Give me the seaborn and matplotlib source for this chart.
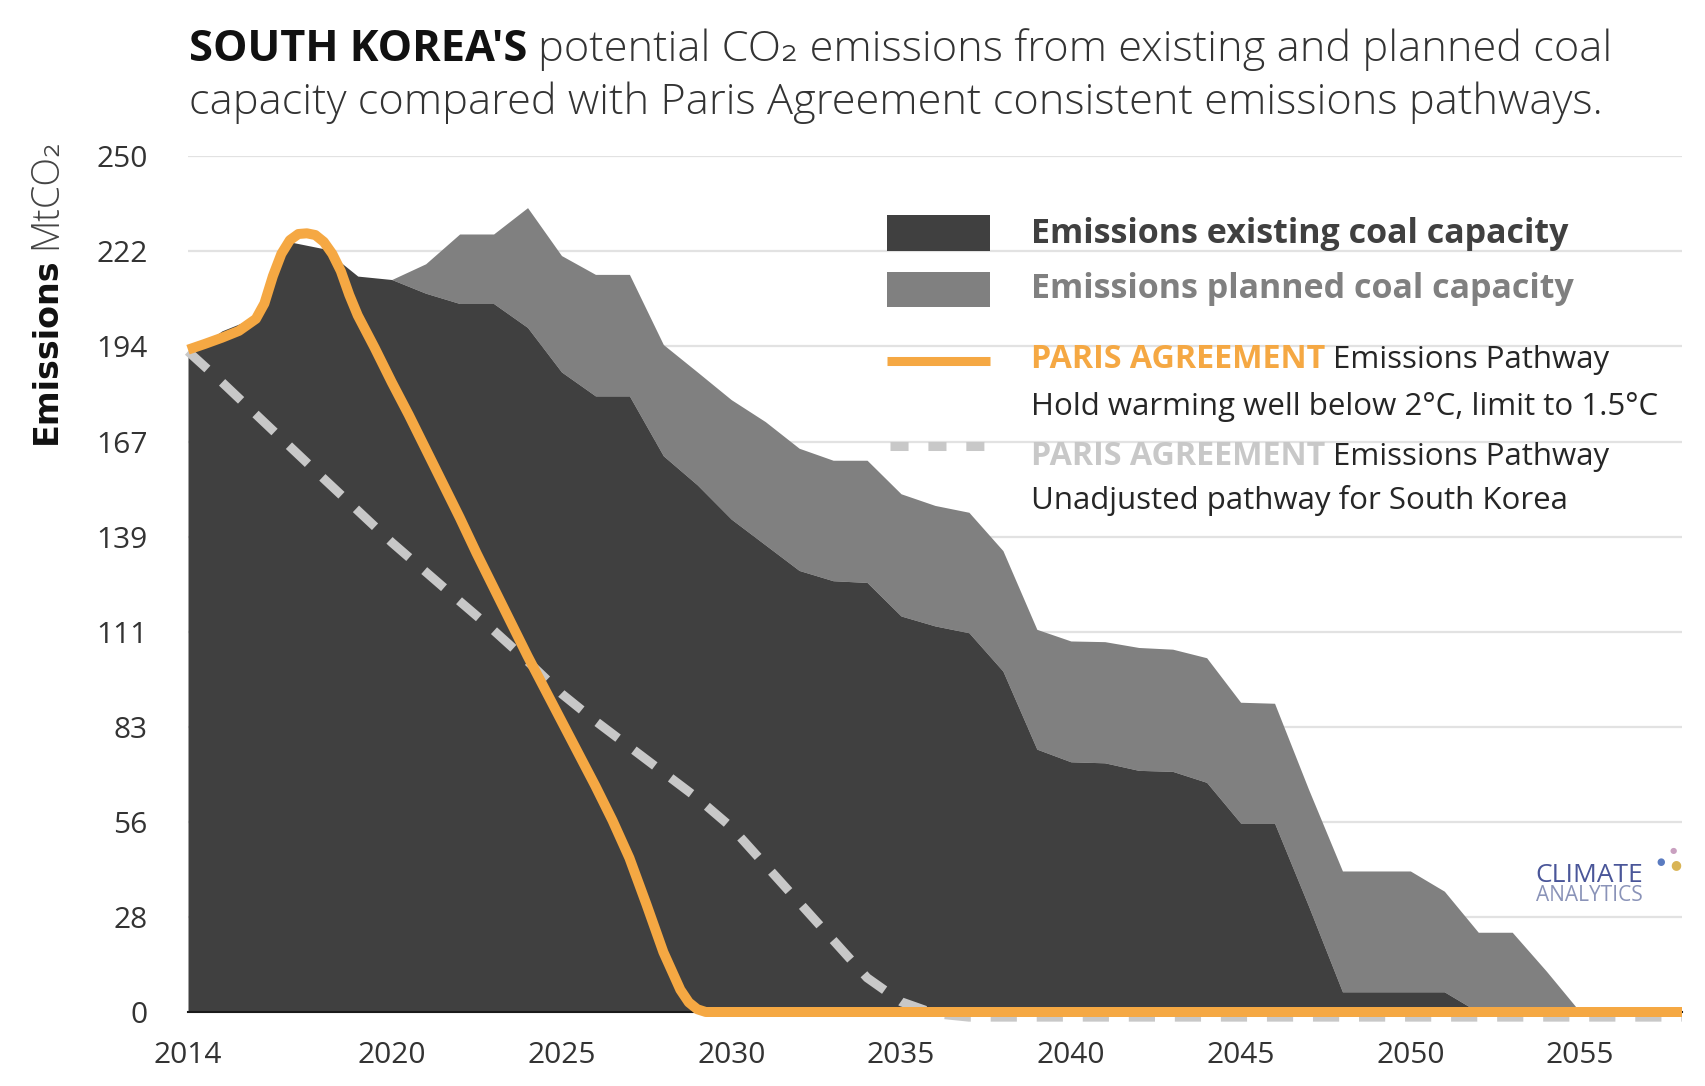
import numpy as np
import pandas as pd
import matplotlib
matplotlib.use("Agg")
import matplotlib.pyplot as plt
import seaborn as sns
from matplotlib.lines import Line2D
from matplotlib.patches import Rectangle

# ---------------- data ----------------
years = list(range(2014, 2059))
existing = [192, 199, 203, 225, 223, 215, 214, 210, 207, 207, 200, 187, 180, 180,
            162.5, 154, 144, 136.5, 129, 126, 125.5, 115.7, 112.8, 110.8, 99.6, 76.8,
            73.1, 72.8, 70.6, 70.3, 67.1, 55.2, 55.2, 31, 5.9, 5.9, 5.9, 5.9,
            0, 0, 0, 0, 0, 0, 0]
planned = [0, 0, 0, 0, 0, 0, 0, 8.6, 20.3, 20.3, 35, 34, 35.5, 35.5, 32.5, 33,
           34.9, 36, 35.7, 35.2, 35.7, 35.7, 35.2, 35.2, 35.2, 35, 35.3, 35.4, 35.9,
           35.7, 36.4, 35.3, 35, 34.1, 35.3, 35.3, 35.3, 29.4, 23.3, 23.3, 12,
           0, 0, 0, 0]
unadjusted = [193, 184, 174.6, 165.2, 155.8, 146.5, 137.2, 128.6, 120, 111.5, 102.5,
              93, 85, 77.5, 70, 62.5, 54, 43, 32, 21, 10, 3, -0.5] + [-1.5] * 22
paris_years = [2014, 2014.5, 2015, 2015.5, 2016, 2016.25, 2016.5, 2016.75, 2017,
               2017.25, 2017.5, 2017.75, 2018, 2018.25, 2018.5, 2018.75, 2019, 2019.5,
               2020, 2020.5, 2021, 2021.5, 2022, 2022.5, 2023, 2023.5, 2024, 2024.5,
               2025, 2025.5, 2026, 2026.5, 2027, 2027.5, 2028, 2028.5, 2028.75, 2029,
               2029.25, 2058]
paris_values = [193.5, 195.2, 197, 199, 202.5, 207, 215, 221.5, 225.5, 227.3, 227.5,
                227, 225, 221.5, 216.5, 209.5, 203.5, 194, 184, 174.5, 164.5, 154.5,
                144.5, 134, 124, 114, 104, 94.5, 85, 75.5, 66, 56, 45, 31.5,
                17.5, 6.5, 2.8, 0.8, 0, 0]
xtick_years = [2014, 2020, 2025, 2030, 2035, 2040, 2045, 2050, 2055]
ytick_labels = ["0", "28", "56", "83", "111", "139", "167", "194", "222", "250"]

# ---------------- styling ----------------
W, H = 1705, 1086
def fx(px): return px / W
def fy(py): return 1 - py / H

sns.set_theme(style="white")
plt.rcParams["font.family"] = ["Open Sans", "DejaVu Sans"]

C_DARK = "#404040"
C_PLAN = "#808080"
C_ORANGE = "#F5A843"
C_LGRAY = "#C8C8C8"
C_TEXT = "#262626"

fig = plt.figure(figsize=(W / 100, H / 100), dpi=100)
fig.patch.set_facecolor("white")
ax = fig.add_axes([fx(188), fy(1012), (1682 - 188) / W, (1012 - 156.3) / H])

df = pd.DataFrame({"year": years, "existing": existing, "planned": planned})
df["total"] = df["existing"] + df["planned"]

ax.fill_between(df["year"], df["existing"], df["total"], color=C_PLAN, lw=0, zorder=2)
ax.fill_between(df["year"], 0, df["existing"], color=C_DARK, lw=0, zorder=2.1)

sns.lineplot(x=years, y=unadjusted, ax=ax, color=C_LGRAY, lw=6.5, zorder=3,
             estimator=None, sort=False)
ln = ax.lines[-1]
ln.set_dashes([2.9, 2.2])
ln.set_dash_capstyle("butt")
ln.set_clip_on(False)

sns.lineplot(x=paris_years, y=paris_values, ax=ax, color=C_ORANGE, lw=7.2, zorder=4,
             estimator=None, sort=False)
ln2 = ax.lines[-1]
ln2.set_solid_joinstyle("round")
ln2.set_solid_capstyle("butt")
ln2.set_clip_on(False)

ax.set_xlim(2014, 2058)
ax.set_ylim(0, 250)
ax.set_xticks(xtick_years)
ax.set_xticklabels([str(y) for y in xtick_years])
ax.set_yticks(np.linspace(0, 250, 10))
ax.set_yticklabels(ytick_labels)
ax.set_xlabel("")
ax.set_ylabel("")
ax.grid(axis="y", color="#E2E2E2", lw=1.6)
ax.grid(axis="x", visible=False)
ax.set_axisbelow(True)
ax.tick_params(axis="y", length=0, pad=29, labelsize=21.5, labelcolor="#333333")
ax.tick_params(axis="x", length=0, pad=21, labelsize=21.5, labelcolor="#333333")
for s in ["top", "right", "left"]:
    ax.spines[s].set_visible(False)
ax.spines["bottom"].set_color("#1a1a1a")
ax.spines["bottom"].set_linewidth(1.5)
ax.spines["bottom"].set_zorder(2.5)

fig.canvas.draw()
r = fig.canvas.get_renderer()

def after(t, gap_px):
    bb = t.get_window_extent(r)
    return (bb.x1 + gap_px) / W

# ---------------- title ----------------
TS = 31.2
t = fig.text(fx(189), fy(61), "SOUTH KOREA'S", fontsize=TS, fontweight="bold",
             color="#111111", va="baseline", ha="left")
fig.text(after(t, 11), fy(61), "potential CO\u2082 emissions from existing and planned coal",
         fontsize=TS, fontweight="light", color="#333333", va="baseline", ha="left")
fig.text(fx(189), fy(114), "capacity compared with Paris Agreement consistent emissions pathways.",
         fontsize=TS, fontweight="light", color="#333333", va="baseline", ha="left")

# ---------------- y label ----------------
ty = fig.text(fx(46), fy(444), "Emissions", fontsize=24, fontweight="bold",
              family=["DejaVu Sans"], color="#111111", rotation=90, ha="center", va="bottom")
bby = ty.get_window_extent(r)
fig.text(fx(46), (bby.y1 + 8) / H, "MtCO\u2082", fontsize=27, fontweight="light",
         color="#444444", rotation=90, ha="center", va="bottom")

# ---------------- legend ----------------
fig.add_artist(Rectangle((fx(887), fy(251)), (990 - 887) / W, (251 - 215) / H,
                         transform=fig.transFigure, facecolor=C_DARK, edgecolor="none"))
fig.add_artist(Rectangle((fx(887), fy(307)), (990 - 887) / W, (307 - 272) / H,
                         transform=fig.transFigure, facecolor=C_PLAN, edgecolor="none"))
fig.add_artist(Line2D([fx(887), fx(990)], [fy(361), fy(361)], lw=6.5, color=C_ORANGE,
                      solid_capstyle="butt", transform=fig.transFigure))
fig.add_artist(Line2D([fx(890), fx(984)], [fy(446), fy(446)], lw=6.5, color=C_LGRAY,
                      dashes=(2.0, 2.2), dash_capstyle="butt", transform=fig.transFigure))

LX = fx(1031)
fig.text(LX, fy(243), "Emissions existing coal capacity", fontsize=24.5, fontweight="bold",
         color=C_DARK, va="baseline")
fig.text(LX, fy(298), "Emissions planned coal capacity", fontsize=24.5, fontweight="bold",
         color=C_PLAN, va="baseline")
p1 = fig.text(LX, fy(367.6), "PARIS AGREEMENT", fontsize=23.2, fontweight="bold",
              color=C_ORANGE, va="baseline")
fig.text(after(p1, 8), fy(367.6), "Emissions Pathway", fontsize=22.5, color=C_TEXT,
         va="baseline")
fig.text(LX, fy(415), "Hold warming well below 2\u00b0C, limit to 1.5\u00b0C", fontsize=22.5,
         color=C_TEXT, va="baseline")
p2 = fig.text(LX, fy(465), "PARIS AGREEMENT", fontsize=23.2, fontweight="bold",
              color=C_LGRAY, va="baseline")
fig.text(after(p2, 8), fy(465), "Emissions Pathway", fontsize=22.5, color=C_TEXT,
         va="baseline")
fig.text(LX, fy(509), "Unadjusted pathway for South Korea", fontsize=22.5, color=C_TEXT,
         va="baseline")

# ---------------- logo ----------------
fig.text(fx(1535), fy(882), "CLIMATE", fontsize=19, color="#4A5699", va="baseline")
fig.text(fx(1536), fy(901), "ANALYTICS", fontsize=15, color="#8A93B8", va="baseline")
fig.text(fx(1673), fy(852), "\u25cf", fontsize=6, color="#C9A0C0", ha="center", va="center")
fig.text(fx(1661), fy(862), "\u25cf", fontsize=7, color="#5A7BC0", ha="center", va="center")
fig.text(fx(1676), fy(865), "\u25cf", fontsize=9, color="#D9B455", ha="center", va="center")

fig.savefig("out.png", dpi=100, facecolor="white")
